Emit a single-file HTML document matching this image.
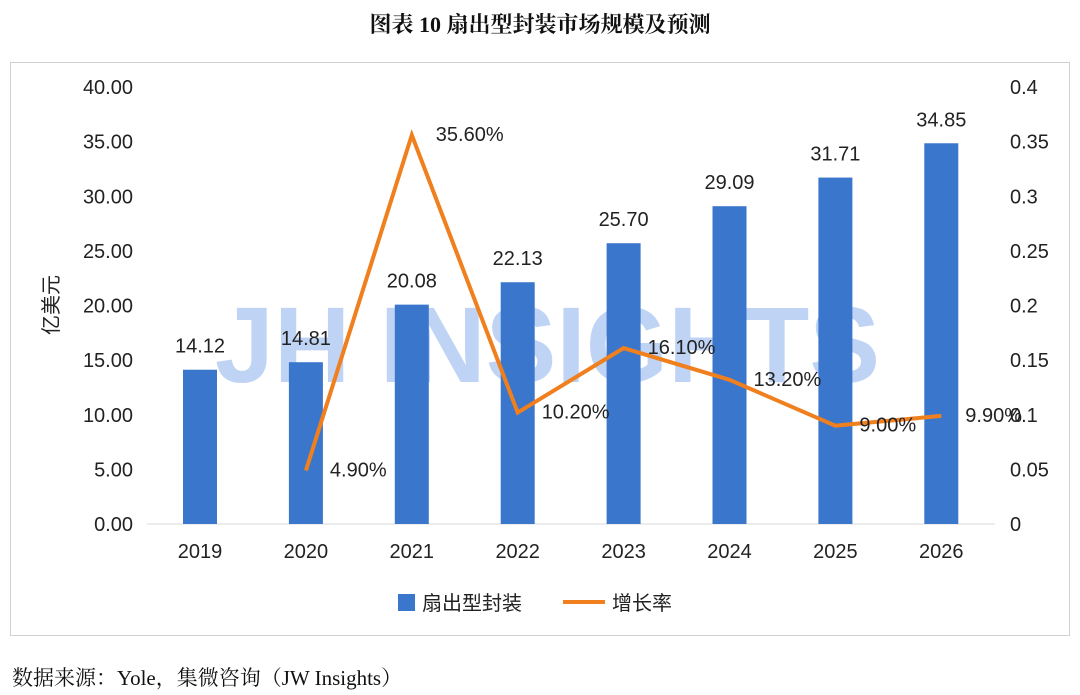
<!DOCTYPE html>
<html><head><meta charset="utf-8">
<style>
html,body{margin:0;padding:0;background:#fff;}
body{width:1080px;height:695px;overflow:hidden;position:relative;font-family:"Liberation Sans","Noto Sans CJK SC",sans-serif;}
.title{position:absolute;top:8px;left:0;width:1080px;text-align:center;font-family:"Liberation Serif","Noto Serif CJK SC",serif;font-weight:bold;font-size:22px;color:#111;}
.frame{position:absolute;left:10px;top:62px;width:1058px;height:572px;border:1px solid #d0d0d0;}
.src{position:absolute;left:12px;top:662px;font-family:"Liberation Serif","Noto Serif CJK SC",serif;font-size:21px;color:#111;}
</style></head><body>
<div class="title">图表 10 扇出型封装市场规模及预测</div>
<div class="frame"></div>
<svg id="chart" width="1080" height="695" style="position:absolute;left:0;top:0"></svg>
<div class="src">数据来源：Yole，集微咨询（JW Insights）</div>
<script>
const categories=["2019","2020","2021","2022","2023","2024","2025","2026"];
const marketValues=[14.12,14.81,20.08,22.13,25.70,29.09,31.71,34.85];
const growthYears=["2020","2021","2022","2023","2024","2025","2026"];
const growthValues=[0.049,0.356,0.102,0.161,0.132,0.090,0.099];
const leftTicks=["0.00","5.00","10.00","15.00","20.00","25.00","30.00","35.00","40.00"];
const rightTicks=["0","0.05","0.1","0.15","0.2","0.25","0.3","0.35","0.4"];
const NS="http://www.w3.org/2000/svg";
const svg=document.getElementById('chart');
const y0=524,yTop=87;
const yL=v=>y0-(v/40)*(y0-yTop);
const yR=v=>y0-(v/0.4)*(y0-yTop);
const xC=i=>200+i*105.9;
function mk(t,a,txt){const e=document.createElementNS(NS,t);for(const k in a)e.setAttribute(k,a[k]);if(txt!=null)e.textContent=txt;svg.appendChild(e);return e;}
let wm=mk('text',{x:215,y:382,'font-size':108,'font-weight':'bold',fill:'#a9c4f2','fill-opacity':0.75,textLength:665,lengthAdjust:'spacingAndGlyphs','font-family':'Liberation Sans, sans-serif'},"JH INSIGHTS");


let ax=mk('line',{x1:147,x2:995,y1:y0,y2:y0,stroke:'#d9d9d9','stroke-width':1});


leftTicks.forEach(t=>{
  let e=mk('text',{x:133,y:yL(parseFloat(t))+7,'text-anchor':'end','font-size':20,fill:'#222'},t);
  
  
});
rightTicks.forEach(t=>{
  let e=mk('text',{x:1010,y:yR(parseFloat(t))+7,'text-anchor':'start','font-size':20,fill:'#222'},t);
  
  
});
let yt=mk('text',{x:0,y:0,'font-size':20,fill:'#222',transform:'translate(58,305) rotate(-90)','text-anchor':'middle'},"亿美元");


categories.forEach((c,i)=>{
  let b=mk('rect',{x:xC(i)-17,y:yL(marketValues[i]),width:34,height:y0-yL(marketValues[i]),fill:'#3a76cc'});
  
  
  let l=mk('text',{x:xC(i),y:yL(marketValues[i])-17,'text-anchor':'middle','font-size':20,fill:'#222'},marketValues[i].toFixed(2));
  
  
  let xl=mk('text',{x:xC(i),y:558,'text-anchor':'middle','font-size':20,fill:'#222'},c);
  
  
});
const pts=growthYears.map((g,j)=>[xC(categories.indexOf(g)),yR(growthValues[j])]);
let pl=mk('polyline',{points:pts.map(p=>p.join(',')).join(' '),fill:'none',stroke:'#f07f1e','stroke-width':4,'stroke-linejoin':'miter'});


pts.forEach((p,j)=>{
  let l=mk('text',{x:p[0]+24,y:p[1]+6,'font-size':20,fill:'#222'},(growthValues[j]*100).toFixed(2)+"%");
  
  
});
let lb=mk('rect',{x:398,y:594,width:17,height:17,fill:'#3a76cc'});


let lt=mk('text',{x:422,y:610,'font-size':20,fill:'#222'},"扇出型封装");


let ll=mk('line',{x1:563,x2:605,y1:602,y2:602,stroke:'#f07f1e','stroke-width':4});


let lt2=mk('text',{x:612,y:610,'font-size':20,fill:'#222'},"增长率");


</script>
</body></html>
